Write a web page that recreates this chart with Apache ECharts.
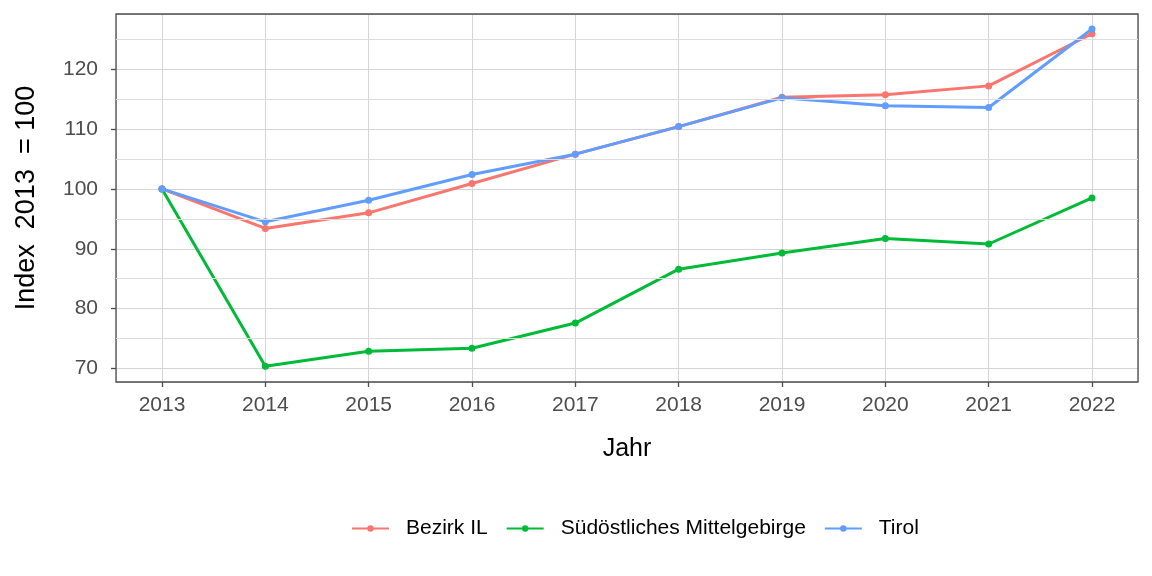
<!DOCTYPE html>
<html>
<head>
<meta charset="utf-8">
<script src="https://cdn.jsdelivr.net/npm/echarts@6/dist/echarts.min.js"></script>
<style>html,body{margin:0;padding:0;background:#fff}#c{width:1152px;height:576px}</style>
</head>
<body>
<div id="c"></div>
<script>
const years = [2013, 2014, 2015, 2016, 2017, 2018, 2019, 2020, 2021, 2022];
const bezirkIL = [100, 93.4, 96.0, 100.9, 105.8, 110.4, 115.3, 115.7, 117.2, 125.9];
const suedoestlichesMittelgebirge = [100, 70.4, 72.9, 73.4, 77.6, 86.6, 89.3, 91.7, 90.8, 98.5];
const tirol = [100, 94.5, 98.1, 102.4, 105.8, 110.4, 115.2, 113.9, 113.6, 126.7];
const seriesNames = ['Bezirk IL', 'Südöstliches Mittelgebirge', 'Tirol'];
const minorYLines = [75, 85, 95, 105, 115, 125];

const FONT = '"Liberation Sans", Arial, sans-serif';
const colors = ['#F8766D', '#00BA38', '#619CFF'];
const pairs = v => years.map((y, i) => [y, v[i]]);

function mkSeries(name, vals, color) {
  return {
    name: name, type: 'line', data: pairs(vals),
    symbol: 'circle', symbolSize: 7, showSymbol: true,
    lineStyle: { color: color, width: 3 },
    itemStyle: { color: color },
    z: 3, animation: false
  };
}

const intFmt = v => (Math.abs(v - Math.round(v)) < 1e-6 ? String(Math.round(v)) : '');

const chart = echarts.init(document.getElementById('c'), null, { renderer: 'canvas' });
chart.setOption({
  animation: false,
  backgroundColor: '#ffffff',
  color: colors,
  grid: { left: 116, right: 14, top: 14, bottom: 194, show: true, borderColor: '#4d4d4d', borderWidth: 1.3, backgroundColor: 'transparent', z: 4 },
  xAxis: {
    type: 'value', min: 2012.555, max: 2022.445, splitNumber: 10,
    name: 'Jahr', nameLocation: 'middle', nameGap: 55,
    nameTextStyle: { fontFamily: FONT, fontSize: 25, color: '#000' },
    axisLine: { show: false },
    axisTick: { show: true, length: 5, lineStyle: { color: '#4d4d4d', width: 1.3 } },
    axisLabel: { fontFamily: FONT, fontSize: 21, color: '#4d4d4d', margin: 13,
      showMinLabel: false, showMaxLabel: false, formatter: intFmt },
    splitLine: { show: true, lineStyle: { color: '#d4d4d4', width: 1 } }
  },
  yAxis: {
    type: 'value', min: 67.76, max: 129.2, splitNumber: 6,
    name: 'Index  2013  = 100', nameLocation: 'middle', nameGap: 76,
    nameTextStyle: { fontFamily: FONT, fontSize: 27, color: '#000' },
    axisLine: { show: false },
    axisTick: { show: true, length: 5, lineStyle: { color: '#4d4d4d', width: 1.3 } },
    axisLabel: { fontFamily: FONT, fontSize: 21, color: '#4d4d4d', margin: 18,
      showMinLabel: false, showMaxLabel: false, formatter: intFmt },
    splitLine: { show: true, lineStyle: { color: '#d4d4d4', width: 1 } }
  },
  legend: {
    top: 513, left: 346, itemWidth: 37, itemHeight: 8, itemGap: 18,
    textStyle: { fontFamily: FONT, fontSize: 21, color: '#000', padding: [0, 0, 0, 12] },
    data: seriesNames
  },
  series: [
    { type: 'line', data: [], z: 1, silent: true,
      markLine: { silent: true, symbol: 'none', label: { show: false }, animation: false,
        lineStyle: { color: '#dcdcdc', width: 1, type: 'solid' },
        data: minorYLines.map(v => ({ yAxis: v })) } },
    mkSeries(seriesNames[0], bezirkIL, colors[0]),
    mkSeries(seriesNames[1], suedoestlichesMittelgebirge, colors[1]),
    mkSeries(seriesNames[2], tirol, colors[2])
  ]
});
</script>
</body>
</html>
